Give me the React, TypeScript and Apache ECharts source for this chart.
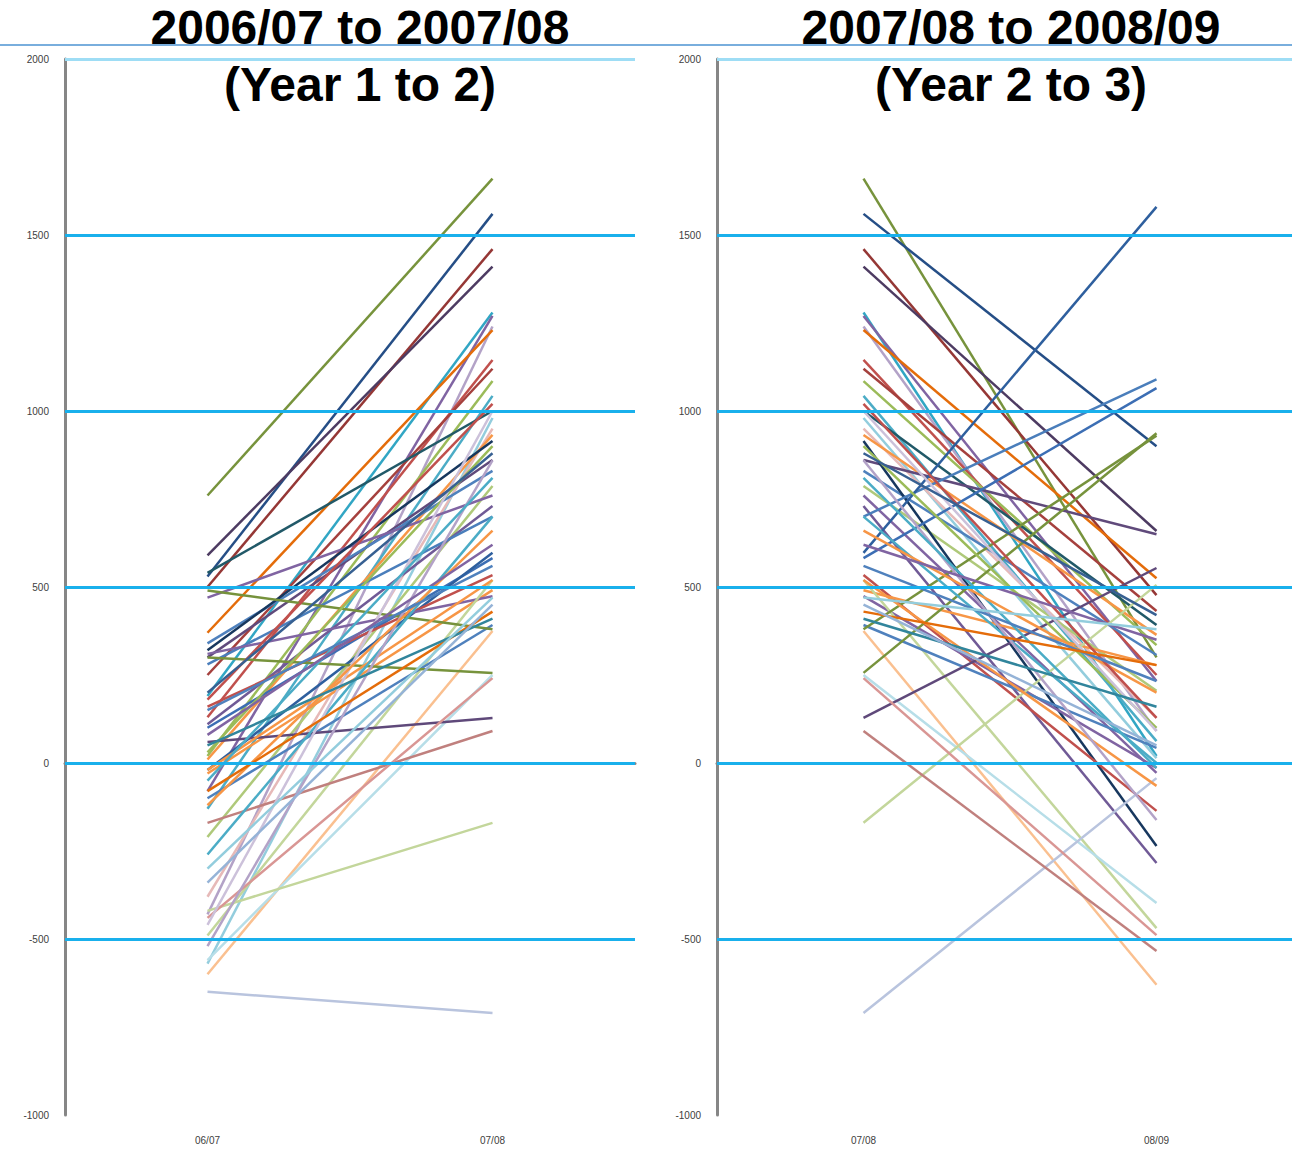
import React, { useEffect, useRef } from 'react';
import * as echarts from 'echarts';

const categoriesLeft = ['06/07', '07/08'];
const categoriesRight = ['07/08', '08/09'];
const titleLeft = '2006/07 to 2007/08\n(Year 1 to 2)';
const titleRight = '2007/08 to 2008/09\n(Year 2 to 3)';
const gridValues = [-500, 0, 500, 1000, 1500];
const topGridValue = 2000;

const year0607 = [760, 530, 500, 590, 190, -80, -430, 370, 130, 250, 20, -130, 540, -570, -380, 10, 300, 340, -210, 470, 320, 110, 280, 100, -20, 160, -30, 310, -490, -100, -600, -560, 300, -650, -420, 60, -170, -440, 490, -20, -260, 30, -520, -460, -50, -120, 180, 150, -80, 50, 80, -300, 200, -340];
const year0708 = [1660, 1560, 1460, 1410, 1280, 1270, 1240, 1230, 1145, 1120, 1085, 1043, 1000, 980, 950, 932, 861, 830, 787, 760, 915, 730, 700, 582, 597, 534, 491, 474, 520, 392, 375, 250, 256, -710, -170, 128, 91, 241, 380, 520, 700, 900, 860, 1000, 810, 660, 1020, 560, 430, 410, 620, 470, 880, 450];
const year0809 = [300, 900, 477, 659, 20, 233, 91, 525, 250, 432, 335, 62, 392, 14, 128, 364, 650, 307, 205, -28, -236, -284, 1090, 1065, 1580, -136, 278, -14, -469, 43, -630, -398, 937, -43, 506, 554, -534, -489, 930, -65, 0, 100, -162, 91, -14, 200, 128, 233, 278, 160, 350, 380, 420, 50];
const lineColors = ['#77933C', '#254E86', '#953735', '#4D3B62', '#31A6C4', '#8064A2', '#B3A2C7', '#E46C0A', '#C0504D', '#A5403D', '#9BBB59', '#4BACC6', '#215968', '#93CDDD', '#E6B9B8', '#F79646', '#604A7B', '#4F81BD', '#AFC97A', '#8064A2', '#17375E', '#705A96', '#4A7EBB', '#3C6EB4', '#2E5F9E', '#C0504D', '#F79646', '#8064A2', '#C3D69B', '#4F81BD', '#FAC090', '#B7DEE8', '#77933C', '#B9C4DE', '#C3D69B', '#5F497A', '#C0807E', '#D99694', '#76923C', '#F79646', '#4BACC6', '#9BBB59', '#B3A2C7', '#CCC1DA', '#4BACC6', '#F79646', '#C0504D', '#4F81BD', '#E46C0A', '#31859C', '#8064A2', '#93CDDD', '#376092', '#95B3D7'];

export default function App() {
  const ref = useRef<HTMLDivElement>(null);
  useEffect(() => {
    document.body.style.margin = '0';
    document.body.style.overflow = 'hidden';
    const chart = echarts.init(ref.current!, null, { renderer: 'svg' });
    const gridLineStyle = { color: '#19B0EC', width: 3, type: 'solid' as const };
    const markLine = {
      silent: true,
      symbol: 'none',
      label: { show: false },
      animation: false,
      z: 10,
      lineStyle: gridLineStyle,
      data: [
        ...gridValues.map((v) => ({ yAxis: v })),
        { yAxis: topGridValue, lineStyle: { color: '#9EDDF5', width: 3, type: 'solid' } },
      ],
    };
    const series: any[] = [];
    year0607.forEach((v, i) => {
      const color = lineColors[i];
      series.push({
        type: 'line', xAxisIndex: 0, yAxisIndex: 0, data: [v, year0708[i]],
        symbol: 'none', silent: true, lineStyle: { color, width: 2.5 }, itemStyle: { color },
        markLine: i === 0 ? markLine : undefined,
      });
      series.push({
        type: 'line', xAxisIndex: 1, yAxisIndex: 1, data: [year0708[i], year0809[i]],
        symbol: 'none', silent: true, lineStyle: { color, width: 2.5 }, itemStyle: { color },
        markLine: i === 0 ? markLine : undefined,
      });
    });
    const axisLabel = { color: '#404040', fontSize: 10, fontFamily: 'Liberation Sans' };
    const yAxisBase = {
      type: 'value', min: -1000, max: 2000, interval: 500,
      axisLine: { show: true, lineStyle: { color: '#868686', width: 3 } },
      axisTick: { show: false }, splitLine: { show: false },
      axisLabel: { ...axisLabel, margin: 16, formatter: (val: number) => String(val) },
    };
    const xAxisBase = {
      type: 'category', boundaryGap: true,
      axisLine: { show: true, lineStyle: { color: '#868686', width: 3 } },
      axisTick: { show: false },
      axisLabel: { ...axisLabel, margin: 20 },
    };
    const titleStyle = { fontSize: 48, fontWeight: 'bold', fontFamily: 'Liberation Sans', color: '#000', lineHeight: 57 };
    chart.setOption({
      animation: false,
      backgroundColor: '#fff',
      title: [
        { text: titleLeft, left: 360, top: -1, textAlign: 'center', padding: 0, textStyle: titleStyle, z: 20 },
        { text: titleRight, left: 1011, top: -1, textAlign: 'center', padding: 0, textStyle: titleStyle, z: 20 },
      ],
      graphic: [
        { type: 'line', shape: { x1: 0, y1: 45, x2: 1310, y2: 45 }, style: { stroke: '#79AEDD', lineWidth: 2 }, z: 0, silent: true },
      ],
      grid: [
        { left: 65, width: 570, top: 59, bottom: 36, containLabel: false },
        { left: 717, width: 586, top: 59, bottom: 36, containLabel: false },
      ],
      xAxis: [
        { ...xAxisBase, gridIndex: 0, data: categoriesLeft },
        { ...xAxisBase, gridIndex: 1, data: categoriesRight },
      ],
      yAxis: [
        { ...yAxisBase, gridIndex: 0 },
        { ...yAxisBase, gridIndex: 1 },
      ],
      series,
    });
    return () => chart.dispose();
  }, []);
  return (
    <div style={{ width: 1292, height: 1151, overflow: 'hidden' }}>
      <div ref={ref} style={{ width: 1310, height: 1151 }} />
    </div>
  );
}
